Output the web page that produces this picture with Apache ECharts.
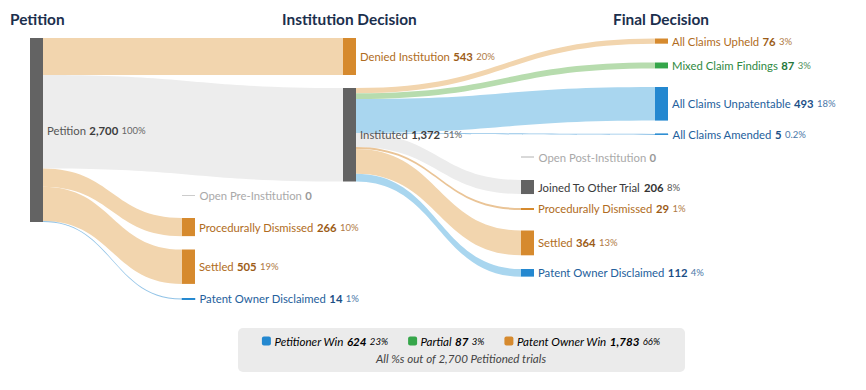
<!DOCTYPE html>
<html><head><meta charset="utf-8">
<script src="https://cdn.jsdelivr.net/npm/echarts@6/dist/echarts.min.js"></script>
<style>html,body{margin:0;padding:0;background:#fff}#c{width:866px;height:390px}</style>
</head><body><div id="c"></div><script>
// ---------- DATA ----------
const totalPetitions = 2700;
const petitionLabel = 'Petition';
const institutionNames = ['Denied Institution','Instituted','Open Pre-Institution','Procedurally Dismissed','Settled','Patent Owner Disclaimed'];
const institutionValues = [543, 1372, 0, 266, 505, 14];
const institutionOutcome = ['owner','neutral','open','owner','owner','petitioner'];
const finalNames = ['All Claims Upheld','Mixed Claim Findings','All Claims Unpatentable','All Claims Amended','Open Post-Institution','Joined To Other Trial','Procedurally Dismissed','Settled','Patent Owner Disclaimed'];
const finalValues = [76, 87, 493, 5, 0, 206, 29, 364, 112];
const finalOutcome = ['owner','partial','petitioner','petitioner','open','joined','owner','owner','petitioner'];
const stageTitles = ['Petition','Institution Decision','Final Decision'];
const legendKeys = ['petitioner','partial','owner'];
const legendLabels = ['Petitioner Win','Partial','Patent Owner Win'];

// ---------- LAYOUT / STYLE ----------
const BOX_W = 866, BOX_H = 194;
const petitionPos = [30, 38];
const institutionPos = [[343,38],[343,88],[182,195.5],[182,218],[182,249.5],[182,298.5]];
const finalPos = [[655,38.5],[655,62.5],[655,87],[655,134],[521,157],[521,180],[521,208],[521,230.5],[521,269]];
const titlePos = [[10,19],[282,19],[613,19]];
const palette = {
  neutral:   {node:'#636363', link:'#ededed', name:'#555555', value:'#3c3c3c', pct:'#666666'},
  owner:     {node:'#d68a2e', link:'#f2d5ae', name:'#b06c22', value:'#9c5c17', pct:'#b07a45'},
  petitioner:{node:'#2488d0', link:'#a9d6ef', name:'#24609c', value:'#1c4f86', pct:'#4a77a8'},
  partial:   {node:'#35a64a', link:'#b7dcae', name:'#2f8a3f', value:'#25773a', pct:'#4e8f5a'},
  open:      {node:'#cccccc', link:'#eeeeee', name:'#a9a9a9', value:'#999999', pct:'#aaaaaa'},
  joined:    {node:'#636363', link:'#ececec', name:'#3a3a3a', value:'#333333', pct:'#555555'}
};
const FONT = 'Lato, "Open Sans", sans-serif';
const LABEL_SIZE = 11.3, PCT_SIZE = 9.5;

const fmt = v => v.toLocaleString('en-US');
const pct = v => { const p = v / totalPetitions * 100; return (p < 0.5 ? p.toFixed(1) : Math.round(p)) + '%'; };

// ---------- BUILD ----------
const meta = [];
const nodes = [];
function addNode(id, label, value, cat, pos) {
  const c = palette[cat];
  const thin = value * (BOX_H - 10) / totalPetitions < 1.5;
  meta.push({label, value, cat});
  nodes.push({
    name: id,
    localX: pos[0] / BOX_W,
    localY: pos[1] / BOX_H,
    itemStyle: {color: c.node, borderColor: c.node, borderWidth: thin ? 1 : 0}
  });
}
addNode('p', petitionLabel, totalPetitions, 'neutral', petitionPos);
institutionNames.forEach((n, i) => addNode('i' + i, n, institutionValues[i], institutionOutcome[i], institutionPos[i]));
finalNames.forEach((n, i) => addNode('f' + i, n, finalValues[i], finalOutcome[i], finalPos[i]));

function linkStyle(v, cat) {
  const c = palette[cat];
  if (v === 0) return {color: c.link, opacity: 0};
  if (v < 30) return {color: c.node, opacity: 0.5};
  return {color: c.link, opacity: 1};
}
const links = [];
institutionValues.forEach((v, i) => links.push({source: 'p', target: 'i' + i, value: v, lineStyle: linkStyle(v, institutionOutcome[i])}));
finalValues.forEach((v, i) => links.push({source: 'i1', target: 'f' + i, value: v, lineStyle: linkStyle(v, finalOutcome[i])}));

const rich = {};
Object.keys(palette).forEach(k => {
  const c = palette[k];
  rich['n_' + k] = {color: c.name, fontSize: LABEL_SIZE, fontFamily: FONT};
  rich['v_' + k] = {color: c.value, fontSize: LABEL_SIZE, fontWeight: 'bold', fontFamily: FONT};
  rich['p_' + k] = {color: c.pct, fontSize: PCT_SIZE, fontFamily: FONT};
});

// legend sums
const sums = {petitioner: 0, partial: 0, owner: 0};
institutionValues.forEach((v, i) => { if (sums[institutionOutcome[i]] != null) sums[institutionOutcome[i]] += v; });
finalValues.forEach((v, i) => { if (sums[finalOutcome[i]] != null) sums[finalOutcome[i]] += v; });
const legendRich = {};
let legendText = '';
legendKeys.forEach((k, i) => {
  const c = palette[k];
  legendRich['s_' + k] = {width: 9, height: 9, backgroundColor: c.node, borderRadius: 2};
  legendRich['n_' + k] = {color: c.name, fontSize: 11.6, fontStyle: 'italic', fontFamily: FONT};
  legendRich['v_' + k] = {color: c.value, fontSize: 11.6, fontStyle: 'italic', fontWeight: 'bold', fontFamily: FONT};
  legendRich['p_' + k] = {color: c.pct, fontSize: 9.6, fontStyle: 'italic', fontFamily: FONT};
  legendText += (i ? '      ' : '') + `{s_${k}|} {n_${k}|${legendLabels[i]}} {v_${k}|${fmt(sums[k])}} {p_${k}|${pct(sums[k])}}`;
});

const graphic = stageTitles.map((t, i) => ({
  type: 'text', x: titlePos[i][0], y: titlePos[i][1],
  style: {text: t, font: 'bold 15.4px ' + FONT, fill: '#1b2f4d', align: 'left', verticalAlign: 'middle'}
}));
graphic.push({type: 'rect', shape: {x: 238, y: 328, width: 447, height: 44, r: 5}, style: {fill: '#ebebeb'}});
graphic.push({type: 'text', x: 461, y: 341, style: {text: legendText, rich: legendRich, align: 'center', verticalAlign: 'middle'}});
graphic.push({type: 'text', x: 461, y: 358, style: {text: `All %s out of ${fmt(totalPetitions)} Petitioned trials`, font: 'italic 11.6px ' + FONT, fill: '#444444', align: 'center', verticalAlign: 'middle'}});

const chart = echarts.init(document.getElementById('c'), null, {renderer: 'svg'});
chart.setOption({
  animation: false,
  graphic,
  series: [{
    type: 'sankey',
    left: 0, top: 0, width: BOX_W, height: BOX_H,
    nodeWidth: 13, nodeGap: 2, nodeAlign: 'left', layoutIterations: 0, draggable: false,
    emphasis: {disabled: true},
    label: {
      position: 'right', distance: 4, rich,
      formatter: p => {
        const m = meta[p.dataIndex];
        if (!m) return '';
        const k = m.cat;
        return `{n_${k}|${m.label}} {v_${k}|${fmt(m.value)}}` + (m.value > 0 ? ` {p_${k}|${pct(m.value)}}` : '');
      }
    },
    lineStyle: {curveness: 0.5, opacity: 1},
    data: nodes,
    links
  }]
});
</script></body></html>
